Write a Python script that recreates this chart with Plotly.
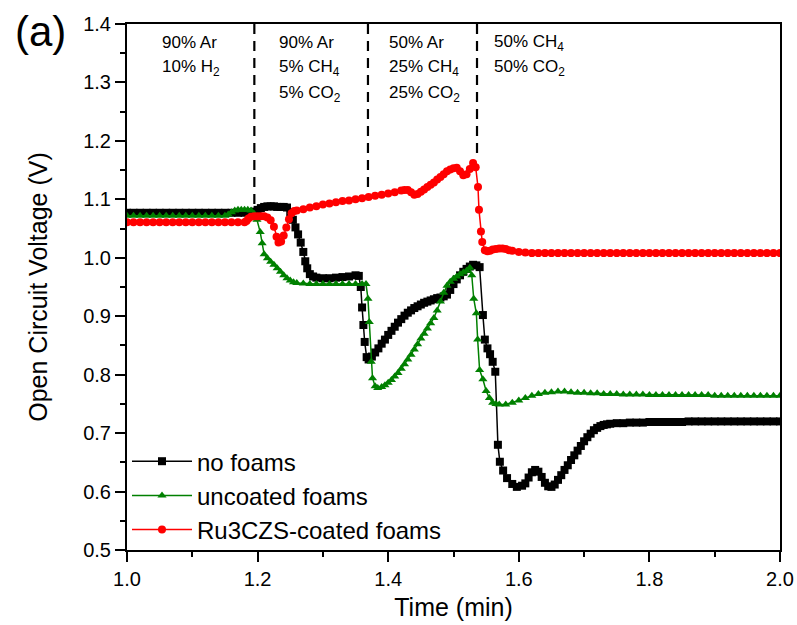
import plotly.graph_objects as go

# ---------------- data ----------------
black_t = [1.00, 1.01, 1.02, 1.03, 1.04, 1.05, 1.06, 1.07, 1.08, 1.09, 1.10, 1.11, 1.12, 1.13, 1.14, 1.15, 1.16, 1.17, 1.18, 1.19,
           1.195, 1.20, 1.205, 1.21, 1.215, 1.22, 1.225, 1.23, 1.235, 1.24, 1.245, 1.25, 1.254, 1.258, 1.262, 1.266, 1.27, 1.273, 1.276, 1.28,
           1.285, 1.29, 1.30, 1.31, 1.32, 1.33, 1.34, 1.35, 1.355, 1.358, 1.36, 1.362, 1.364, 1.367, 1.37, 1.375, 1.38, 1.385, 1.39, 1.395,
           1.40, 1.405, 1.41, 1.415, 1.42, 1.425, 1.43, 1.435, 1.44, 1.445, 1.45, 1.455, 1.46, 1.465, 1.47, 1.475, 1.48, 1.485, 1.49, 1.495,
           1.50, 1.505, 1.51, 1.515, 1.52, 1.525, 1.53, 1.535, 1.54, 1.545, 1.548, 1.552, 1.556, 1.56, 1.564, 1.568, 1.571, 1.576, 1.582, 1.59,
           1.597, 1.605, 1.61, 1.615, 1.62, 1.625, 1.63, 1.635, 1.64, 1.645, 1.65, 1.655, 1.66, 1.665, 1.67, 1.675, 1.68, 1.685, 1.69, 1.695,
           1.70, 1.705, 1.71, 1.715, 1.72, 1.725, 1.73, 1.735, 1.74, 1.75, 1.76, 1.77, 1.78, 1.79, 1.80, 1.81, 1.82, 1.83, 1.84, 1.85,
           1.86, 1.87, 1.88, 1.89, 1.90, 1.91, 1.92, 1.93, 1.94, 1.95, 1.96, 1.97, 1.98, 1.99, 2.00]
black_v = [1.077, 1.077, 1.077, 1.077, 1.077, 1.077, 1.077, 1.077, 1.077, 1.077, 1.077, 1.077, 1.077, 1.077, 1.077, 1.077, 1.077, 1.077, 1.077, 1.078,
           1.079, 1.082, 1.085, 1.087, 1.088, 1.088, 1.088, 1.087, 1.087, 1.087, 1.086, 1.078, 1.065, 1.052, 1.040, 1.026, 1.010, 0.994, 0.982, 0.972,
           0.968, 0.966, 0.965, 0.965, 0.966, 0.967, 0.968, 0.970, 0.969, 0.950, 0.915, 0.885, 0.856, 0.830, 0.826, 0.831, 0.838, 0.845, 0.853, 0.860,
           0.868, 0.875, 0.882, 0.889, 0.895, 0.901, 0.906, 0.910, 0.914, 0.917, 0.920, 0.923, 0.925, 0.927, 0.929, 0.931, 0.932, 0.934, 0.937, 0.945,
           0.955, 0.963, 0.970, 0.976, 0.981, 0.985, 0.988, 0.987, 0.984, 0.902, 0.860, 0.845, 0.835, 0.822, 0.805, 0.680, 0.651, 0.636, 0.623, 0.613,
           0.608, 0.610, 0.614, 0.624, 0.633, 0.637, 0.634, 0.625, 0.615, 0.609, 0.608, 0.612, 0.620, 0.628, 0.637, 0.645, 0.654, 0.662, 0.670, 0.678,
           0.686, 0.693, 0.699, 0.705, 0.709, 0.712, 0.714, 0.715, 0.716, 0.717, 0.717, 0.718, 0.718, 0.718, 0.719, 0.719, 0.719, 0.719, 0.719, 0.719,
           0.720, 0.720, 0.720, 0.720, 0.720, 0.720, 0.720, 0.720, 0.720, 0.720, 0.720, 0.720, 0.720, 0.720, 0.720]

green_t = [1.00, 1.01, 1.02, 1.03, 1.04, 1.05, 1.06, 1.07, 1.08, 1.09, 1.10, 1.11, 1.12, 1.13, 1.14, 1.15, 1.155, 1.16, 1.165, 1.17,
           1.175, 1.18, 1.185, 1.19, 1.195, 1.199, 1.204, 1.207, 1.21, 1.215, 1.22, 1.225, 1.23, 1.235, 1.24, 1.245, 1.25, 1.255, 1.26, 1.27,
           1.28, 1.29, 1.30, 1.31, 1.32, 1.33, 1.34, 1.35, 1.36, 1.366, 1.369, 1.371, 1.374, 1.376, 1.38, 1.384, 1.39, 1.395, 1.40, 1.405,
           1.41, 1.415, 1.42, 1.425, 1.43, 1.435, 1.44, 1.445, 1.45, 1.455, 1.46, 1.465, 1.47, 1.475, 1.48, 1.485, 1.49, 1.495, 1.50, 1.505,
           1.51, 1.515, 1.52, 1.525, 1.528, 1.531, 1.535, 1.537, 1.54, 1.545, 1.55, 1.555, 1.56, 1.565, 1.57, 1.58, 1.59, 1.60, 1.61, 1.62,
           1.63, 1.64, 1.65, 1.66, 1.67, 1.68, 1.69, 1.70, 1.71, 1.72, 1.73, 1.74, 1.75, 1.76, 1.77, 1.78, 1.79, 1.80, 1.81, 1.82,
           1.83, 1.84, 1.85, 1.86, 1.87, 1.88, 1.89, 1.90, 1.91, 1.92, 1.93, 1.94, 1.95, 1.96, 1.97, 1.98, 1.99, 2.00]
green_v = [1.072, 1.072, 1.072, 1.072, 1.072, 1.072, 1.072, 1.072, 1.072, 1.072, 1.072, 1.072, 1.072, 1.072, 1.072, 1.072, 1.074, 1.078, 1.081, 1.082,
           1.082, 1.082, 1.082, 1.081, 1.075, 1.065, 1.044, 1.025, 1.006, 0.999, 0.993, 0.988, 0.982, 0.976, 0.970, 0.965, 0.961, 0.958, 0.957, 0.956,
           0.955, 0.955, 0.955, 0.955, 0.955, 0.955, 0.955, 0.955, 0.955, 0.955, 0.930, 0.890, 0.822, 0.794, 0.780, 0.777, 0.779, 0.782, 0.786, 0.791,
           0.797, 0.803, 0.810, 0.818, 0.826, 0.834, 0.843, 0.852, 0.862, 0.870, 0.879, 0.888, 0.897, 0.910, 0.925, 0.940, 0.952, 0.959, 0.964, 0.968,
           0.972, 0.975, 0.978, 0.983, 0.970, 0.930, 0.905, 0.860, 0.808, 0.792, 0.772, 0.760, 0.752, 0.750, 0.749, 0.749, 0.752, 0.756, 0.760, 0.764,
           0.767, 0.769, 0.770, 0.771, 0.771, 0.770, 0.769, 0.769, 0.768, 0.768, 0.767, 0.767, 0.767, 0.766, 0.766, 0.766, 0.766, 0.765, 0.765, 0.765,
           0.765, 0.765, 0.765, 0.765, 0.765, 0.765, 0.765, 0.764, 0.764, 0.764, 0.764, 0.764, 0.764, 0.764, 0.764, 0.764, 0.764, 0.764]

red_t = [1.00, 1.01, 1.02, 1.03, 1.04, 1.05, 1.06, 1.07, 1.08, 1.09, 1.10, 1.11, 1.12, 1.13, 1.14, 1.15, 1.16, 1.17, 1.18, 1.183,
         1.186, 1.19, 1.195, 1.20, 1.205, 1.21, 1.215, 1.22, 1.225, 1.229, 1.232, 1.236, 1.24, 1.244, 1.248, 1.252, 1.256, 1.26, 1.27, 1.28,
         1.29, 1.30, 1.31, 1.32, 1.33, 1.34, 1.35, 1.36, 1.37, 1.38, 1.39, 1.40, 1.41, 1.42, 1.425, 1.43, 1.435, 1.44, 1.445, 1.45,
         1.455, 1.46, 1.465, 1.47, 1.475, 1.48, 1.485, 1.49, 1.495, 1.50, 1.505, 1.51, 1.515, 1.52, 1.525, 1.53, 1.534, 1.5375, 1.539, 1.542,
         1.544, 1.548, 1.552, 1.556, 1.56, 1.565, 1.57, 1.575, 1.58, 1.585, 1.59, 1.60, 1.61, 1.62, 1.63, 1.64, 1.65, 1.66, 1.67, 1.68,
         1.69, 1.70, 1.71, 1.72, 1.73, 1.74, 1.75, 1.76, 1.77, 1.78, 1.79, 1.80, 1.81, 1.82, 1.83, 1.84, 1.85, 1.86, 1.87, 1.88,
         1.89, 1.90, 1.91, 1.92, 1.93, 1.94, 1.95, 1.96, 1.97, 1.98, 1.99, 2.00]
red_v = [1.061, 1.061, 1.061, 1.061, 1.061, 1.061, 1.061, 1.061, 1.061, 1.061, 1.061, 1.061, 1.061, 1.061, 1.061, 1.061, 1.061, 1.061, 1.061, 1.063,
         1.067, 1.070, 1.071, 1.071, 1.071, 1.071, 1.069, 1.064, 1.053, 1.036, 1.026, 1.028, 1.038, 1.052, 1.066, 1.076, 1.080, 1.081, 1.083, 1.086,
         1.088, 1.091, 1.093, 1.095, 1.097, 1.098, 1.100, 1.102, 1.104, 1.106, 1.108, 1.110, 1.112, 1.115, 1.116, 1.116, 1.112, 1.108, 1.109, 1.113,
         1.117, 1.121, 1.125, 1.129, 1.134, 1.138, 1.143, 1.148, 1.151, 1.153, 1.154, 1.148, 1.141, 1.143, 1.152, 1.162, 1.155, 1.121, 1.082, 1.045,
         1.027, 1.013, 1.011, 1.012, 1.014, 1.015, 1.016, 1.016, 1.015, 1.013, 1.012, 1.010, 1.009, 1.008, 1.008, 1.008, 1.008, 1.008, 1.008, 1.008,
         1.008, 1.008, 1.008, 1.008, 1.008, 1.008, 1.008, 1.008, 1.008, 1.008, 1.008, 1.008, 1.008, 1.008, 1.008, 1.008, 1.008, 1.008, 1.008, 1.008,
         1.008, 1.008, 1.008, 1.008, 1.008, 1.008, 1.008, 1.008, 1.008, 1.008, 1.008, 1.008]

series_names = ["no foams", "uncoated foams", "Ru3CZS-coated foams"]

# gas switching times (dashed separators) and their lower ends
switch_t = [1.195, 1.369, 1.536]
switch_bottom = [1.085, 1.12, 1.176]

# gas composition labels: (left time, lines)
gas_x = [1.051, 1.230, 1.398, 1.559]
gas_lines = [
    ["90% Ar", "10% H<sub>2</sub>"],
    ["90% Ar", "5% CH<sub>4</sub>", "5% CO<sub>2</sub>"],
    ["50% Ar", "25% CH<sub>4</sub>", "25% CO<sub>2</sub>"],
    ["50% CH<sub>4</sub>", "50% CO<sub>2</sub>"],
]
gas_row_y = [1.3675, 1.3247, 1.2802]

FONT = "Liberation Sans, Arial, sans-serif"

fig = go.Figure()

styles = [
    ("black", "square"),
    ("#008000", "triangle-up"),
    ("#ff0000", "circle"),
]
for (t, v), name, (col, sym) in zip([(black_t, black_v), (green_t, green_v), (red_t, red_v)], series_names, styles):
    fig.add_trace(go.Scatter(
        x=t, y=v, name=name, mode="lines+markers",
        line=dict(color=col, width=1.5),
        marker=dict(color=col, symbol=sym, size=8, line=dict(width=0)),
    ))

for xt, yb in zip(switch_t, switch_bottom):
    fig.add_shape(type="line", xref="x", yref="y", x0=xt, x1=xt, y0=1.4, y1=yb,
                  line=dict(color="black", width=2.2, dash="10px,7px"), layer="above")

for xl, lines in zip(gas_x, gas_lines):
    for row, txt in enumerate(lines):
        fig.add_annotation(x=xl, y=gas_row_y[row], xref="x", yref="y", text=txt,
                           showarrow=False, xanchor="left", yanchor="middle",
                           font=dict(family=FONT, size=17, color="black"))

fig.add_annotation(x=-0.175, y=1.035, xref="paper", yref="paper", text="(a)",
                   showarrow=False, xanchor="left", yanchor="top",
                   font=dict(family=FONT, size=42, color="black"))

axis_common = dict(
    showline=True, linewidth=2, linecolor="black", mirror=True,
    ticks="outside", ticklen=10, tickwidth=2, tickcolor="black",
    showgrid=False, zeroline=False, automargin=False,
    tickfont=dict(family=FONT, size=20, color="black"),
)

fig.update_xaxes(range=[1.0, 2.0], dtick=0.2, tick0=1.0, tickformat=".1f",
                 minor=dict(ticks="outside", ticklen=5, tickwidth=2, tickcolor="black", dtick=0.1, showgrid=False),
                 title=dict(text="Time (min)", font=dict(family=FONT, size=25, color="black"), standoff=9),
                 **axis_common)
fig.update_yaxes(range=[0.5, 1.4], dtick=0.1, tick0=0.5, tickformat=".1f",
                 minor=dict(ticks="outside", ticklen=5, tickwidth=2, tickcolor="black", dtick=0.05, showgrid=False),
                 title=dict(text="Open Circuit Voltage (V)", font=dict(family=FONT, size=25, color="black"), standoff=28),
                 **axis_common)

fig.update_layout(
    width=797, height=625,
    margin=dict(l=127, r=17, t=24, b=75),
    paper_bgcolor="white", plot_bgcolor="white",
    legend=dict(x=0.0, y=-0.004, xanchor="left", yanchor="bottom", bgcolor="rgba(0,0,0,0)",
                font=dict(family=FONT, size=24, color="black"), itemwidth=60,
                tracegroupgap=0),
    showlegend=True,
)

fig.write_html("out.html")
